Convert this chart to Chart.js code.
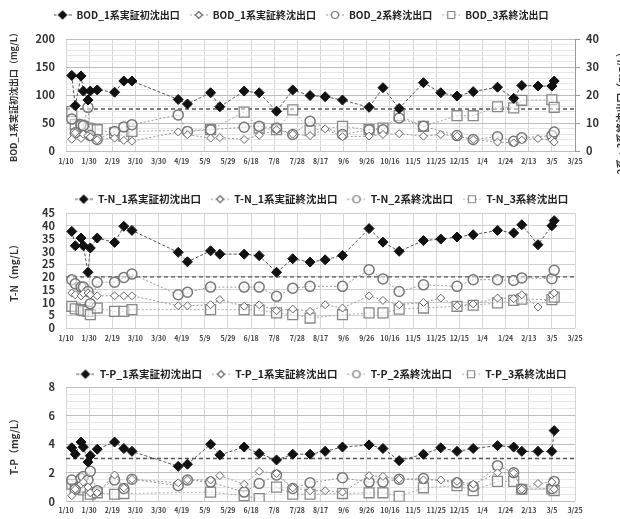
<!DOCTYPE html>
<html lang="ja">
<head>
<meta charset="UTF-8">
<title>BOD・T-N・T-P 経時変化</title>
<script src="https://cdn.jsdelivr.net/npm/chart.js@4"></script>
<style>
  body { margin: 0; background: #fff; width: 620px; height: 519px; overflow: hidden; position: relative; }
  canvas { position: absolute; left: 0; }
</style>
</head>
<body>
<canvas id="bodChart" width="620" height="175" style="top:0px"></canvas>
<canvas id="tnChart" width="620" height="172" style="top:180px"></canvas>
<canvas id="tpChart" width="620" height="167" style="top:352px"></canvas>
<script>
// 採水日
var sampleDates = [
  '2016-01-15', '2016-01-18', '2016-01-23', '2016-01-25', '2016-01-29', '2016-01-31', '2016-02-06',
  '2016-02-21', '2016-02-29', '2016-03-07', '2016-04-16', '2016-04-24', '2016-05-14', '2016-05-22',
  '2016-06-12', '2016-06-25', '2016-07-10', '2016-07-24', '2016-08-08', '2016-08-21', '2016-09-05',
  '2016-09-28', '2016-10-10', '2016-10-24', '2016-11-14', '2016-11-29', '2016-12-13', '2016-12-27',
  '2017-01-17', '2017-01-31', '2017-02-07', '2017-02-21', '2017-03-05', '2017-03-07'
];
var startDate = '2016-01-10';
var tickLabels = ['1/10', '1/30', '2/19', '3/10', '3/30', '4/19', '5/9', '5/29', '6/18', '7/8', '7/28',
  '8/17', '9/6', '9/26', '10/16', '11/5', '11/25', '12/15', '1/4', '1/24', '2/13', '3/5', '3/25'];

// BOD (初沈:左軸, 終沈:右軸)
var bod1First = [135, 81, 134, 107, 91, 107, 109, 105, 125, 125, 92, 84, 104, 79, 107, 104, 71, 109, 99, 97,
  91, 78, 113, 76, 122, 104, 98, 106, 114, 94, 117, 116, 116, 125];
var bod1Final = [4.2, 6.5, 4.5, 6, 5.5, 5, 4, 4.6, 3.8, 3.5, 6.8, 5.8, 4.6, 4.8, 4.1, 5.6, 7.6, 6, 5.5, 7.9,
  5.1, 5.3, 5.9, 6.2, 5.3, 5.9, 5.3, 4.1, 3.2, 2.9, 3.9, 4.4, 3.9, 3.2];
var bod2Final = [11.4, 6.5, 9.4, 9, 15.6, 5.5, 4.1, 7, 8.6, 9.4, 12.9, 7, 7.6, null, 8.5, 8.8, 8.2, 5.9, 10.6, null,
  5.9, 7.6, 7.6, 11.8, 8.8, null, 5.5, 4.1, 5.1, 3.5, 4.7, null, 5.5, 6.8];
var bod3Final = [14.1, 9.5, 9, 8.8, 8.2, 7.8, 7.6, 6.5, 5.3, 7, null, null, 7.6, null, 13.9, 8.2, 7.6, 14.7, 7.3, null,
  8.8, 7.6, 8.2, 12.6, 8.8, null, 12.6, 12.6, 15.8, 15.4, 18.1, null, 18.3, 15.6];
var bodLimit = 75;

// T-N
var tn1First = [37.8, 32.2, 35.2, 32.2, 21.8, 31.3, 35.2, 33.5, 39.8, 38.2, 29.6, 25.9, 30.2, 28.9, 28.9, 28.3, 21.8, 27.1, 25.8, 26.7,
  28.4, 38.9, 33.6, 30, 34.2, 34.8, 35.6, 36.5, 38.2, 37.2, 40.4, 32.6, 40, 42];
var tn1Final = [13.7, 13, 12.6, 13.5, 13.7, 13, 12.6, 12.6, 12.6, 12.6, 8.7, 8.7, 9.1, 11.1, 8.5, 9.1, 6.8, 7.4, 6.5, 9.1,
  7.8, 12.6, 10.8, 9.1, 10, 11.7, 8.7, 9.4, 11.7, 11.5, 13, 8.2, 13, 13.7];
var tn2Final = [18.9, 17.3, 16, 16, 14.3, 9.5, 17.9, 17.9, 19.8, 21.1, 13, 14, 16, null, 16, 16, 12.4, 15.6, 16.3, null,
  16.3, 22.8, 19.2, 14.3, 16.9, null, 16.3, 18.9, 18.9, 18.6, 19.6, null, 19.3, 22.6];
var tn3Final = [8.5, 7.5, 7.2, 6.8, 6.5, 5.2, 7.8, 6.5, 6.5, 7.2, null, null, 7.2, null, 7.2, 7, 5.9, 5.2, 3.9, null,
  5.2, 5.9, 5.9, 7.4, 7.8, null, 8.5, 8.9, 9.8, 10.8, 11.3, null, 11.1, 12.1];
var tnLimit = 20;

// T-P
var tp1First = [3.75, 3.3, 4.15, 3.8, 2.75, 3.2, 3.65, 4.15, 3.7, 3.5, 2.45, 2.6, 4.0, 3.25, 3.8, 3.35, 2.9, 3.3, 3.3, 3.5,
  3.8, 3.95, 3.7, 2.85, 3.3, 3.75, 3.5, 3.7, 3.9, 3.8, 3.5, 3.5, 3.5, 4.95];
var tp1Final = [0.4, 0.85, 1.2, 1.35, 1.0, 0.6, 0.6, 1.85, 0.95, 1.55, 1.3, 1.5, 1.5, 1.8, 1.2, 2.1, 1.95, 0.95, 0.75, 0.75,
  0.65, 1.8, 1.75, 1.55, 1.5, 1.5, 1.4, 1.2, 2.0, 2.0, 0.85, 1.25, 1.35, 0.85];
var tp2Final = [1.5, 0.85, 1.6, 1.75, 1.5, 2.1, 0.75, 1.5, 0.9, 1.55, 1.1, 1.5, 1.35, null, 0.65, 1.25, 1.85, 0.9, 1.3, null,
  1.65, 1.35, 1.35, 1.55, 1.6, null, 1.3, 1.05, 2.5, 2.0, 0.85, null, 0.9, 1.4];
var tp3Final = [1.2, 0.9, 1.0, 0.8, 0.3, 0.5, 0.6, 0.5, 0.55, null, null, null, 0.65, null, 0.4, 0.2, 1.0, 0.5, 0.5, null,
  0.55, 0.6, 0.6, 0.35, 0.95, null, 1.1, 0.75, 1.4, 1.4, 0.85, null, 0.85, 0.75];
var tpLimit = 3;

Chart.defaults.font.family = '"Noto Sans CJK JP", "Noto Sans", sans-serif';
Chart.defaults.color = '#333';

var DAY = 86400000;
var lastDay = (tickLabels.length - 1) * 20;
function dayOf(d) {
  return (Date.parse(d) - Date.parse(startDate)) / DAY;
}

// 系列の見た目
var firstStyle = { shape: 'rectRot', radius: 5, size: 4, fill: '#111', edge: '#111', edgeWidth: 1, line: '#555', dash: [3, 2] };
var diamondStyle = { shape: 'rectRot', radius: 4, size: 3.5, fill: '#fff', edge: '#666', edgeWidth: 1, line: '#999', dash: [2, 2] };
var circleStyle = { shape: 'circle', radius: 5, size: 3.5, fill: 'rgba(255,255,255,0.5)', edge: '#777', edgeWidth: 1.5, line: '#999', dash: [2, 2] };
var squareStyle = { shape: 'rect', radius: 7, size: 3.5, fill: 'rgba(255,255,255,0.5)', edge: '#888', edgeWidth: 1.3, line: '#aaa', dash: [2, 2] };

var ICON_W = 18;

// 凡例用アイコン (線+マーカー)
function makeIcon(s) {
  var c = document.createElement('canvas');
  c.width = ICON_W; c.height = 12;
  var g = c.getContext('2d');
  var m = ICON_W / 2;
  g.strokeStyle = s.line; g.lineWidth = 1; g.setLineDash(s.dash);
  g.beginPath(); g.moveTo(0, 6); g.lineTo(ICON_W, 6); g.stroke();
  g.setLineDash([]);
  g.fillStyle = s.fill === '#111' ? '#111' : '#fff';
  g.strokeStyle = s.edge; g.lineWidth = 1.2;
  var r = s.size;
  g.beginPath();
  if (s.shape === 'rectRot') {
    g.moveTo(m, 6 - r); g.lineTo(m + r, 6); g.lineTo(m, 6 + r); g.lineTo(m - r, 6); g.closePath();
  } else if (s.shape === 'circle') {
    g.arc(m, 6, r, 0, Math.PI * 2);
  } else {
    g.rect(m - r, 6 - r, 2 * r, 2 * r);
  }
  g.fill(); g.stroke();
  return c;
}

function series(label, values, st, axis) {
  return {
    label: label,
    yAxisID: axis,
    data: sampleDates.map(function (d, i) { return { x: dayOf(d), y: values[i] }; }),
    pointStyle: st.shape,
    pointRadius: st.radius,
    pointBackgroundColor: st.fill,
    pointBorderColor: st.edge,
    pointBorderWidth: st.edgeWidth,
    borderColor: st.line,
    borderWidth: 1,
    borderDash: st.dash,
    spanGaps: true,
    fill: false,
    legendIcon: makeIcon(st)
  };
}

function limitLine(value, axis) {
  return {
    label: '',
    yAxisID: axis,
    data: [{ x: 0, y: value }, { x: lastDay, y: value }],
    borderColor: '#555',
    borderWidth: 1.3,
    borderDash: [4, 3],
    pointRadius: 0
  };
}

// 凡例の高さと横位置を固定する
function legendBox(h, dx) {
  return {
    id: 'legendBox',
    beforeInit: function (chart) {
      var fit = chart.legend.fit;
      chart.legend.fit = function () {
        fit.call(this);
        this.height = h;
      };
    },
    afterLayout: function (chart) {
      chart.legend.left += dx;
      chart.legend.right += dx;
    }
  };
}

function xScale(pad, height) {
  return {
    type: 'linear', min: 0, max: lastDay,
    ticks: {
      stepSize: 20, autoSkip: false, maxRotation: 0, padding: pad,
      font: { size: 7, weight: 'bold' }, color: '#444',
      callback: function (v) { return tickLabels[v / 20]; }
    },
    grid: { color: '#d6d6d6', drawTicks: false },
    border: { display: false },
    afterFit: function (s) { s.height = height; }
  };
}

function yScale(max, step, major, title, grid) {
  return {
    position: 'left', min: 0, max: max,
    ticks: {
      stepSize: step, padding: 11, autoSkip: false,
      font: { size: 11, weight: 'bold' }, color: '#333',
      callback: function (v) { return Math.abs(v % major) < 1e-9 ? v : ''; }
    },
    grid: {
      drawTicks: false,
      color: function (c) { return Math.abs(c.tick.value % major) < 1e-9 ? grid[0] : grid[1]; }
    },
    border: { display: false },
    title: { display: true, text: title, font: { size: 9, weight: 'bold' }, color: '#333', padding: { top: 8, bottom: 0 } },
    afterFit: function (s) { s.width = 66; }
  };
}

function legendOpts(size) {
  return {
    position: 'top',
    labels: {
      usePointStyle: true, pointStyleWidth: ICON_W, boxHeight: 10, padding: 10,
      font: { size: size, weight: 'bold' }, color: '#222',
      generateLabels: function (chart) {
        return Chart.defaults.plugins.legend.labels.generateLabels(chart)
          .filter(function (item) { return item.text; })
          .map(function (item) {
            item.pointStyle = chart.data.datasets[item.datasetIndex].legendIcon;
            return item;
          });
      }
    }
  };
}

// 右軸タイトル (画像の右端で切れている)
var rightTitle = {
  id: 'rightTitle',
  afterDraw: function (chart) {
    var g = chart.ctx;
    g.save();
    g.translate(chart.width + 1, chart.chartArea.top + 8);
    g.rotate(-Math.PI / 2);
    g.textAlign = 'right';
    g.textBaseline = 'middle';
    g.font = 'bold 10px "Noto Sans CJK JP"';
    g.fillStyle = '#333';
    g.fillText('BOD_2系・3系終沈出口（mg/L）', 0, 0);
    g.restore();
  }
};

function baseOptions(padTop, padRight, legendSize) {
  return {
    responsive: false,
    animation: false,
    devicePixelRatio: 1,
    layout: { padding: { top: padTop, right: padRight, left: 0, bottom: 0 } },
    plugins: { legend: legendOpts(legendSize), tooltip: { enabled: false } }
  };
}

// BOD
var bodOptions = baseOptions(0, 0, 10);
bodOptions.scales = {
  x: xScale(6, 24),
  y: yScale(200, 10, 50, 'BOD_1系実証初沈出口（mg/L）', ['#bdbdbd', '#e6e6e6']),
  y2: {
    position: 'right', min: 0, max: 40,
    ticks: { stepSize: 10, padding: 6, autoSkip: false, font: { size: 11, weight: 'bold' }, color: '#333' },
    grid: { drawOnChartArea: false, color: '#999', tickLength: 5 },
    border: { color: '#999' },
    afterFit: function (s) { s.width = 45; }
  }
};
new Chart(document.getElementById('bodChart'), {
  type: 'line',
  data: {
    datasets: [
      series('BOD_1系実証初沈出口', bod1First, firstStyle, 'y'),
      series('BOD_1系実証終沈出口', bod1Final, diamondStyle, 'y2'),
      series('BOD_2系終沈出口', bod2Final, circleStyle, 'y2'),
      series('BOD_3系終沈出口', bod3Final, squareStyle, 'y2'),
      limitLine(bodLimit, 'y')
    ]
  },
  options: bodOptions,
  plugins: [legendBox(39, -9), rightTitle]
});

// T-N
var tnOptions = baseOptions(4, 45, 10.5);
tnOptions.scales = {
  x: xScale(6, 24),
  y: yScale(45, 5, 5, 'T-N（mg/L）', ['#cfcfcf', '#cfcfcf'])
};
tnOptions.scales.y.title.font.size = 10;
new Chart(document.getElementById('tnChart'), {
  type: 'line',
  data: {
    datasets: [
      series('T-N_1系実証初沈出口', tn1First, firstStyle, 'y'),
      series('T-N_1系実証終沈出口', tn1Final, diamondStyle, 'y'),
      series('T-N_2系終沈出口', tn2Final, circleStyle, 'y'),
      series('T-N_3系終沈出口', tn3Final, squareStyle, 'y'),
      limitLine(tnLimit, 'y')
    ]
  },
  options: tnOptions,
  plugins: [legendBox(29, 34)]
});

// T-P
var tpOptions = baseOptions(7, 45, 10.5);
tpOptions.scales = {
  x: xScale(5, 13),
  y: yScale(8, 0.5, 2, 'T-P（mg/L）', ['#bdbdbd', '#e6e6e6'])
};
tpOptions.scales.y.title.font.size = 10;
new Chart(document.getElementById('tpChart'), {
  type: 'line',
  data: {
    datasets: [
      series('T-P_1系実証初沈出口', tp1First, firstStyle, 'y'),
      series('T-P_1系実証終沈出口', tp1Final, diamondStyle, 'y'),
      series('T-P_2系終沈出口', tp2Final, circleStyle, 'y'),
      series('T-P_3系終沈出口', tp3Final, squareStyle, 'y'),
      limitLine(tpLimit, 'y')
    ]
  },
  options: tpOptions,
  plugins: [legendBox(28, 34)]
});
</script>
</body>
</html>
